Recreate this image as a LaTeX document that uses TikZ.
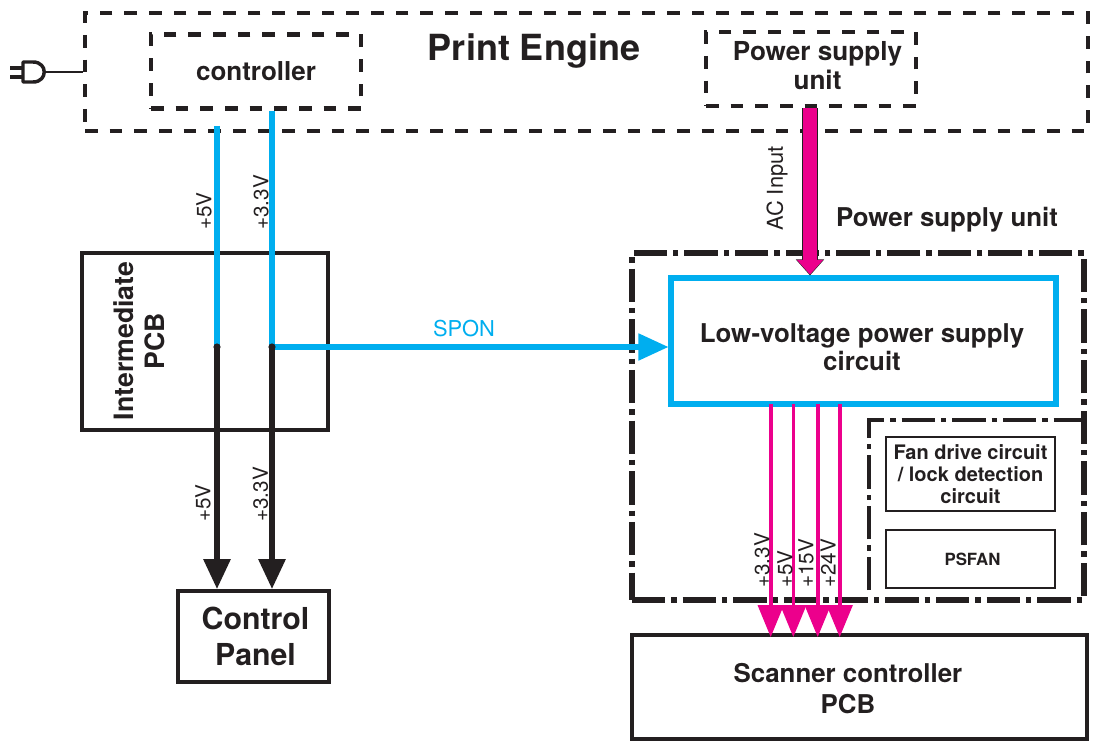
\documentclass[tikz,border=0pt]{standalone}
\usepackage{fontspec}
\setmainfont{TeX Gyre Heros}
\usetikzlibrary{arrows.meta,positioning}
\definecolor{inkblack}{HTML}{231F20}
\definecolor{lineblue}{HTML}{00AEEF}
\definecolor{linepink}{HTML}{EC008C}

\begin{document}
\begin{tikzpicture}[
    x=0.75pt, y=-0.75pt,
    every node/.style={text=inkblack},
    lbl/.style={inner sep=0pt, align=center, font=\bfseries\fontsize{19.4}{21.5}\selectfont},
    volt/.style={inner sep=0pt, rotate=90, anchor=west, font=\fontsize{15.5}{17}\selectfont},
    dashbox/.style={draw=inkblack, line width=3.3pt, dash pattern=on 9.5pt off 9pt},
    chainbox/.style={draw=inkblack, line width=4pt, dash pattern=on 25pt off 4.5pt on 4pt off 4.5pt},
    solidbox/.style={draw=inkblack, line width=2.8pt, align=center, inner sep=0pt},
    smallbox/.style={draw=inkblack, line width=2.2pt, align=center, inner sep=0pt},
    sigblue/.style={lineblue, line width=3.8pt},
    sigblack/.style={-{Triangle[length=22.5pt,width=19.5pt]}, inkblack, line width=4.4pt},
    rail/.style={-{Triangle[length=24pt,width=19pt]}, linepink, line width=2.7pt, shorten >=-3pt}
  ]
    \useasboundingbox (0,0) rectangle (1093,741);

    % print engine
    \node[dashbox, minimum width=752.25pt, minimum height=88.5pt] (engine) at (586.5,72) {};
    \node[lbl, font=\bfseries\fontsize{27}{30}\selectfont] (enginetxt) at (534,51) {Print Engine};
    \node[dashbox, lbl, draw=inkblack, inner sep=0pt, font=\bfseries\fontsize{19.5}{22}\selectfont, minimum width=157.5pt, minimum height=55.5pt] (ctrl) at (256,71.5) {controller};
    \node[dashbox, minimum width=157.5pt, minimum height=55.5pt] (psutop) at (811,69) {};
    \node[lbl, font=\bfseries\fontsize{19.6}{21.5}\selectfont] (psutoptxt) at (817.5,65.5) {Power supply\\unit};

    % plug
    \coordinate (plug) at (46,72);
    \draw[inkblack, line width=2.6pt, line join=round] (23,62) -- (33,62) .. controls (48,62) and (48,82) .. (33,82) -- (23,82) -- cycle;
    \draw[inkblack, line width=2.6pt] (10,68) -- (23,68) (10,77) -- (23,77);
    \draw[inkblack, line width=1.4pt] (plug) -- (engine.west |- plug);

    % left side
    \node[solidbox, minimum width=184.5pt, minimum height=132.75pt] (inter) at (205,341.5) {};
    \node[lbl, rotate=90, font=\bfseries\fontsize{20}{23.5}\selectfont] (intertxt) at (139.5,341) {Intermediate\\PCB};
    \node[solidbox, font=\bfseries\fontsize{22.7}{27}\selectfont, minimum width=113.25pt, minimum height=68.25pt] (panel) at (253.5,636.5) {\hspace*{3pt}Control\\\hspace*{3pt}Panel};

    % right side
    \node[chainbox, minimum width=339pt, minimum height=260.25pt] (psu) at (858,426.5) {};
    \node[lbl] (psutxt) at (947,220) {Power supply unit};
    \node[draw=lineblue, line width=3.8pt, minimum width=288.75pt, minimum height=94.5pt] (lv) at (863.5,341) {};
    \node[lbl, font=\bfseries\fontsize{19.4}{21}\selectfont] (lvtxt) at (862,347) {Low-voltage power supply\\circuit};
    \coordinate (fantl) at (869,420);
    \draw[inkblack, line width=2.6pt, dash pattern=on 25pt off 4.5pt on 4pt off 4.5pt] (869,590) -- (fantl) -- (fantl -| psu.east);
    \node[smallbox, font=\bfseries\fontsize{15}{16.5}\selectfont, minimum width=126.75pt, minimum height=55.5pt] (fan) at (970.5,474) {Fan drive circuit\\/ lock detection\\circuit};
    \node[smallbox, font=\bfseries\fontsize{12.6}{14}\selectfont, minimum width=126.75pt, minimum height=43.5pt] (psfan) at (970.5,559) {\hspace*{3pt}PSFAN};
    \node[solidbox, minimum width=341.25pt, minimum height=78pt] (scan) at (859.5,687) {};
    \node[lbl, font=\bfseries\fontsize{19.4}{23.2}\selectfont] (scantxt) at (848,688.5) {Scanner controller\\PCB};

    % blue lines
    \coordinate (top5) at (217,126);
    \coordinate (j5) at (217,347);
    \coordinate (j33) at (272,347);
    \draw[sigblue] (top5) -- (j5);
    \draw[sigblue] (j33 |- ctrl.south) -- (j33);
    \draw[sigblue, -{Triangle[length=22.5pt,width=19.5pt]}] (j33) -- (j33 -| lv.west);
    \node[text=lineblue, inner sep=0pt, font=\fontsize{16.4}{18}\selectfont] (spon) at (464,329) {SPON};

    % black lines
    \draw[sigblack] (j5) -- (j5 |- panel.north);
    \draw[sigblack] (j33) -- (j33 |- panel.north);
    \node[circle, fill=inkblack, inner sep=0pt, minimum size=5.4pt] (dot5) at (j5) {};
    \node[circle, fill=inkblack, inner sep=0pt, minimum size=5.4pt] (dot33) at (j33) {};

    % pink lines
    \coordinate (ac) at (810,106);
    \draw[-{Triangle[length=12pt,width=20.5pt]}, inkblack, line width=11.4pt] (ac |- psutop.south) -- (ac |- lv.north);
    \draw[-{Triangle[length=11pt,width=19pt]}, linepink, line width=10pt] (ac |- psutop.south) -- ([yshift=0.7pt]ac |- lv.north);
    \coordinate (t1) at (770.7,404);
    \coordinate (t2) at (793.3,404);
    \coordinate (t3) at (817.7,404);
    \coordinate (t4) at (839.7,404);
    \foreach \i in {1,2,3,4}
      \draw[rail] (t\i) -- (t\i |- scan.north);

    % voltage labels
    \node[volt] (upper5) at (204,230) {+5V};
    \node[volt] (upper33) at (261,230) {+3.3V};
    \node[volt] (lower5) at (203,522) {+5V};
    \node[volt] (lower33) at (260.5,522) {+3.3V};
    \node[volt, font=\fontsize{16.4}{18}\selectfont] (acin) at (777,231) {AC Input};
    \node[volt] (r33) at (762,588) {+3.3V};
    \node[volt] (r5) at (785,588) {+5V};
    \node[volt] (r15) at (806,588) {+15V};
    \node[volt] (r24) at (828,588) {+24V};
  \end{tikzpicture}
\end{document}
